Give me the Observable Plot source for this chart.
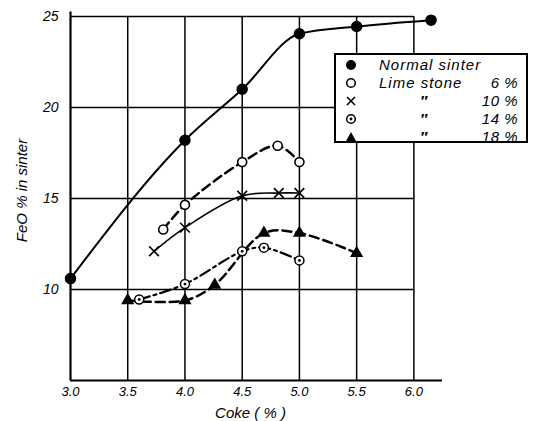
<!DOCTYPE html>
<html><head><meta charset="utf-8">
<script src="https://cdn.jsdelivr.net/npm/d3@7"></script>
<script src="https://cdn.jsdelivr.net/npm/@observablehq/plot@0.6"></script>
<style>
body{margin:0;background:#fff;}
#wrap{position:relative;width:533px;height:421px;font-family:"Liberation Sans",Arial,sans-serif;font-style:italic;color:#000;}
#legend{position:absolute;left:334px;top:53px;width:190px;height:86px;border:2px solid #000;background:#fff;font-size:15px;}
.row{position:absolute;left:0;height:18px;line-height:18px;width:190px;}
.row svg{position:absolute;left:9px;top:3px;}
.row .name{position:absolute;left:43px;letter-spacing:1px;}
.row .ditto{position:absolute;left:84px;font-weight:bold;}
.row .pct{position:absolute;right:8px;letter-spacing:0.5px;}
</style></head><body><div id="wrap"></div>
<script>
const xTicks = [3.0, 3.5, 4.0, 4.5, 5.0, 5.5, 6.0];
const yTicks = [10, 15, 20, 25];
const xGrid = [3.5, 4.0, 4.5, 5.0, 5.5, 6.0];
const yGrid = [10, 15, 20, 25];

const normalX = [3.0, 4.0, 4.5, 5.0, 5.5, 6.15];
const normalY = [10.6, 18.2, 21.0, 24.05, 24.45, 24.8];
const lime6X = [3.81, 4.0, 4.5, 4.81, 5.0];
const lime6Y = [13.3, 14.65, 17.0, 17.9, 17.0];
const lime10X = [3.73, 4.0, 4.5, 4.82, 5.0];
const lime10Y = [12.1, 13.4, 15.15, 15.3, 15.3];
const lime14X = [3.6, 4.0, 4.5, 4.69, 5.0];
const lime14Y = [9.45, 10.3, 12.1, 12.3, 11.6];
const lime18X = [3.5, 4.0, 4.26, 4.69, 5.0, 5.5];
const lime18Y = [9.4, 9.4, 10.25, 13.1, 13.1, 12.0];

const seriesNames = ["Normal sinter", "Lime stone", "″", "″", "″"];
const seriesPct = ["", "6 %", "10 %", "14 %", "18 %"];

const zip = (xs, ys) => xs.map((x, i) => ({x, y: ys[i]}));
const normal = zip(normalX, normalY);
const l6 = zip(lime6X, lime6Y);
const l10 = zip(lime10X, lime10Y);
const l14 = zip(lime14X, lime14Y);
const l18 = zip(lime18X, lime18Y);

const curve = "catmull-rom";
const chart = Plot.plot({
  width: 533, height: 421,
  marginLeft: 70, marginRight: 91, marginTop: 16, marginBottom: 41,
  x: {domain: [3.0, 6.25]},
  y: {domain: [5, 25]},
  style: {fontFamily: '"Liberation Sans", Arial, sans-serif', fontStyle: "italic", fontSize: "13px", background: "#fff", color: "#000"},
  marks: [
    Plot.ruleX(xGrid, {y1: 5, y2: 25, stroke: "#000", strokeWidth: 1.5}),
    Plot.ruleY(yGrid, {x1: 3.0, x2: 6.0, stroke: "#000", strokeWidth: 1.5}),
    Plot.ruleX([3.0], {y1: 5, y2: 25.25, stroke: "#000", strokeWidth: 2.2}),
    Plot.ruleY([5], {x1: 3.0, x2: 6.25, stroke: "#000", strokeWidth: 2.2}),
    Plot.axisX({ticks: xTicks, tickSize: 0, tickPadding: 6, tickFormat: d3.format(".1f"), label: null, fontSize: 13}),
    Plot.axisY({ticks: yTicks, tickSize: 0, tickPadding: 12, label: null, fontSize: 14}),
    Plot.text(["Coke ( % )"], {frameAnchor: "bottom", dy: 37, dx: -6, fontSize: 15, letterSpacing: "1px"}),
    Plot.text(["FeO % in sinter"], {frameAnchor: "left", textAnchor: "middle", dx: -48, dy: -8, rotate: -90, fontSize: 15, letterSpacing: "0.8px"}),
    Plot.line(normal, {x: "x", y: "y", curve: "monotone-x", stroke: "#000", strokeWidth: 2}),
    Plot.line(l6, {x: "x", y: "y", curve, stroke: "#000", strokeWidth: 2.5, strokeDasharray: "9,5"}),
    Plot.line(l10, {x: "x", y: "y", curve, stroke: "#000", strokeWidth: 1.6}),
    Plot.line(l14, {x: "x", y: "y", curve, stroke: "#000", strokeWidth: 2.2, strokeDasharray: "11,4,3,4"}),
    Plot.line(l18, {x: "x", y: "y", curve, stroke: "#000", strokeWidth: 2.5, strokeDasharray: "9,5"}),
    Plot.dot(normal, {x: "x", y: "y", r: 5, fill: "#000", stroke: "#000"}),
    Plot.dot(l6, {x: "x", y: "y", r: 4.5, fill: "#fff", stroke: "#000", strokeWidth: 1.6}),
    Plot.dot(l10, {x: "x", y: "y", r: 4.5, symbol: "times", stroke: "#000", strokeWidth: 1.6}),
    Plot.dot(l14, {x: "x", y: "y", r: 4.5, fill: "#fff", stroke: "#000", strokeWidth: 1.5}),
    Plot.dot(l14, {x: "x", y: "y", r: 1.4, fill: "#000", stroke: "none"}),
    Plot.dot(l18, {x: "x", y: "y", r: 3.9, symbol: "triangle", fill: "#000", stroke: "#000"})
  ]
});

const wrap = document.getElementById("wrap");
wrap.appendChild(chart);

const legend = document.createElement("div");
legend.id = "legend";
const symbols = [
  '<circle cx="6" cy="6" r="5" fill="#000"/>',
  '<circle cx="6" cy="6" r="4.3" fill="#fff" stroke="#000" stroke-width="1.6"/>',
  '<path d="M2 2L10 10M10 2L2 10" stroke="#000" stroke-width="1.6"/>',
  '<circle cx="6" cy="6" r="4.3" fill="#fff" stroke="#000" stroke-width="1.5"/><circle cx="6" cy="6" r="1.4" fill="#000"/>',
  '<path d="M6 1L11.5 11H0.5Z" fill="#000"/>'
];
seriesNames.forEach((name, i) => {
  const row = document.createElement("div");
  row.className = "row";
  row.style.top = (1 + i * 18) + "px";
  const cls = i < 2 ? "name" : "ditto";
  row.innerHTML = `<svg width="12" height="12">${symbols[i]}</svg><span class="${cls}">${name}</span><span class="pct">${seriesPct[i]}</span>`;
  legend.appendChild(row);
});
wrap.appendChild(legend);
</script>
</body></html>
